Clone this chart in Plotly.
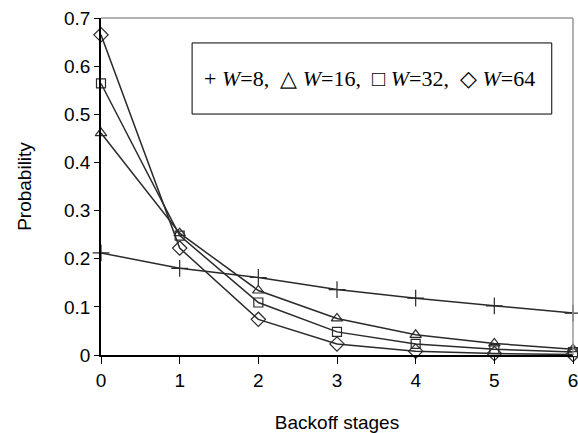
import plotly.graph_objects as go

stages = [0, 1, 2, 3, 4, 5, 6]
w8 = [0.212, 0.180, 0.161, 0.136, 0.118, 0.102, 0.087]
w16 = [0.461, 0.253, 0.134, 0.076, 0.042, 0.024, 0.012]
w32 = [0.564, 0.248, 0.109, 0.048, 0.023, 0.012, 0.006]
w64 = [0.665, 0.222, 0.074, 0.023, 0.008, 0.003, 0.001]
y_ticks = [0, 0.1, 0.2, 0.3, 0.4, 0.5, 0.6, 0.7]
y_tick_text = ["0", "0.1", "0.2", "0.3", "0.4", "0.5", "0.6", "0.7"]

series = [
    ("W=8", w8, "cross-thin-open", 12),
    ("W=16", w16, "triangle-up-open", 10),
    ("W=32", w32, "square-open", 9),
    ("W=64", w64, "diamond-open", 11),
]

fig = go.Figure()
for name, vals, sym, sz in series:
    fig.add_trace(go.Scatter(
        x=stages, y=vals, mode="lines+markers", name=name,
        line=dict(color="#2a2a2a", width=1.5),
        marker=dict(symbol=sym, size=sz, color="#2a2a2a",
                    line=dict(color="#2a2a2a", width=1.2)),
        cliponaxis=False, showlegend=False,
    ))

fig.update_layout(
    width=578, height=433,
    margin=dict(l=101, r=5, t=18, b=78, autoexpand=False),
    paper_bgcolor="white", plot_bgcolor="white",
    font=dict(family="Liberation Sans, Arial", size=19, color="black"),
    xaxis=dict(
        range=[0, 6], tickmode="array", tickvals=stages,
        ticks="outside", ticklen=7, tickcolor="black",
        showline=True, linecolor="black", linewidth=1.5,
        showgrid=False, zeroline=False, automargin=False,
        ticklabeloverflow="allow",
        title=dict(text="Backoff stages", font=dict(size=19), standoff=30),
        tickfont=dict(size=19),
    ),
    yaxis=dict(
        range=[0, 0.7], tickmode="array", tickvals=y_ticks, ticktext=y_tick_text,
        ticks="outside", ticklen=5, tickcolor="black",
        showline=True, linecolor="black", linewidth=1.5,
        showgrid=False, zeroline=False, automargin=False,
        ticklabeloverflow="allow",
        title=dict(text="Probability", font=dict(size=19), standoff=27),
        tickfont=dict(size=19),
    ),
    shapes=[
        dict(type="line", xref="paper", yref="paper", x0=0, x1=1, y0=1, y1=1,
             line=dict(color="#999999", width=1.5)),
        dict(type="line", xref="paper", yref="paper", x0=1, x1=1, y0=0, y1=1,
             line=dict(color="#999999", width=1.5)),
        dict(type="rect", xref="paper", yref="paper",
             x0=0.193, x1=0.955, y0=0.715, y1=0.926,
             line=dict(color="black", width=1), fillcolor="white", layer="below"),
    ],
    annotations=[
        dict(xref="paper", yref="paper", x=0.568, y=0.82, showarrow=False,
             text="+ <i>W</i>=8,  △ <i>W</i>=16,  □ <i>W</i>=32,  ◇ <i>W</i>=64",
             font=dict(family="Liberation Serif, Times New Roman", size=22, color="black"),
             xanchor="center", yanchor="middle"),
    ],
)

fig.write_html("out.html")
